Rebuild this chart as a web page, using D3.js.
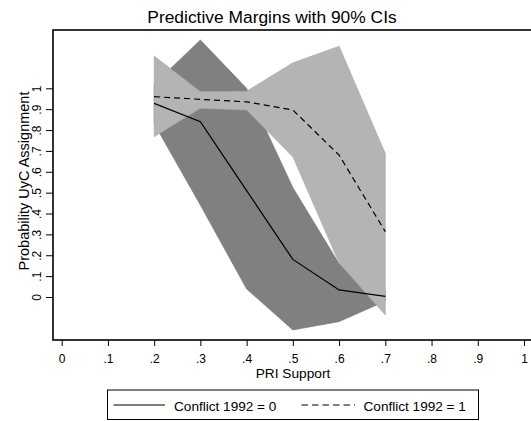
<!DOCTYPE html>
<html>
<head>
<meta charset="utf-8">
<script src="https://cdn.jsdelivr.net/npm/d3@7"></script>
<style>
  body { margin: 0; background: #fff; }
  svg { display: block; font-family: "Liberation Sans", Arial, Helvetica, sans-serif; }
</style>
</head>
<body>
<svg id="chart"></svg>
<script>
// PRI support values the margins were computed at.
const pri = [0.2, 0.3, 0.4, 0.5, 0.6, 0.7];

// Conflict 1992 = 0: point estimate and 90% CI.
const fit0 = [0.928, 0.84, 0.51, 0.18, 0.034, 0.003];
const lo0 = [0.83, 0.44, 0.038, -0.158, -0.118, -0.02];
const hi0 = [1.02, 1.232, 1.0, 0.525, 0.16, 0.03];

// Conflict 1992 = 1: point estimate and 90% CI.
const fit1 = [0.96, 0.947, 0.935, 0.896, 0.68, 0.313];
const lo1 = [0.768, 0.904, 0.896, 0.672, 0.163, -0.086];
const hi1 = [1.155, 0.984, 0.986, 1.122, 1.202, 0.688];

// Tick labels, Stata style.
const xTicks = [0, 0.1, 0.2, 0.3, 0.4, 0.5, 0.6, 0.7, 0.8, 0.9, 1];
const yTicks = [0, 0.1, 0.2, 0.3, 0.4, 0.5, 0.6, 0.7, 0.8, 0.9, 1];
const legendLabels = ["Conflict 1992 = 0", "Conflict 1992 = 1"];

const W = 531, H = 421;
const svg = d3.select("#chart").attr("width", W).attr("height", H);

// Plot region (the frame runs off the right edge like in the original).
const box = { left: 53, top: 30, right: 545, bottom: 340 };

const x = d3.scaleLinear().domain([0, 1]).range([61.7, 524]);
const y = d3.scaleLinear().domain([0, 1]).range([297, 88.3]);

const fmt = (d) => d === 0 ? "0" : d === 1 ? "1" : d3.format(".1f")(d).replace(/^0/, "");

// Bands first, light one over the dark one.
const band = (lo, hi) => d3.area()
    .x((d, i) => x(pri[i]))
    .y0((d, i) => y(lo[i]))
    .y1((d, i) => y(hi[i]));

svg.append("path")
    .datum(pri)
    .attr("d", band(lo0, hi0))
    .attr("fill", "#808080")
    .attr("stroke", "#7a7a7a")
    .attr("stroke-width", 0.6);

svg.append("path")
    .datum(pri)
    .attr("d", band(lo1, hi1))
    .attr("fill", "#b4b4b4")
    .attr("stroke", "#aaaaaa")
    .attr("stroke-width", 0.6);

// Point estimate lines.
const line = (vals) => d3.line()
    .x((d, i) => x(pri[i]))
    .y((d, i) => y(vals[i]));

svg.append("path")
    .datum(pri)
    .attr("d", line(fit0))
    .attr("fill", "none")
    .attr("stroke", "#000")
    .attr("stroke-width", 1.2);

svg.append("path")
    .datum(pri)
    .attr("d", line(fit1))
    .attr("fill", "none")
    .attr("stroke", "#000")
    .attr("stroke-width", 1.2)
    .attr("stroke-dasharray", "6,4");

// Frame / axis lines.
svg.append("rect")
    .attr("x", box.left)
    .attr("y", box.top)
    .attr("width", box.right - box.left)
    .attr("height", box.bottom - box.top)
    .attr("fill", "none")
    .attr("stroke", "#000")
    .attr("stroke-width", 1.6);

// X axis.
const xAxis = svg.append("g")
    .attr("transform", `translate(0,${box.bottom})`)
    .call(d3.axisBottom(x).tickValues(xTicks).tickFormat(fmt).tickSize(6).tickPadding(8));
xAxis.select(".domain").remove();
xAxis.selectAll("line").attr("stroke", "#000").attr("stroke-width", 1);
xAxis.selectAll("text")
    .attr("font-size", 12)
    .attr("font-family", "Liberation Sans, Arial, sans-serif")
    .attr("fill", "#000");

// Y axis, labels turned vertical.
const yAxis = svg.append("g")
    .attr("transform", `translate(${box.left},0)`)
    .call(d3.axisLeft(y).tickValues(yTicks).tickFormat(fmt).tickSize(7).tickPadding(0));
yAxis.select(".domain").remove();
yAxis.selectAll("line").attr("stroke", "#000").attr("stroke-width", 1);
yAxis.selectAll("text")
    .attr("x", null)
    .attr("dy", null)
    .attr("text-anchor", "middle")
    .attr("transform", "translate(-12.5,0) rotate(-90)")
    .attr("font-size", 12)
    .attr("font-family", "Liberation Sans, Arial, sans-serif")
    .attr("fill", "#000");

// Titles.
svg.append("text")
    .attr("x", 272)
    .attr("y", 23)
    .attr("text-anchor", "middle")
    .attr("font-size", 17.4)
    .text("Predictive Margins with 90% CIs");

svg.append("text")
    .attr("x", 293)
    .attr("y", 378)
    .attr("text-anchor", "middle")
    .attr("font-size", 13.7)
    .text("PRI Support");

svg.append("text")
    .attr("transform", "translate(28.5,181) rotate(-90)")
    .attr("text-anchor", "middle")
    .attr("font-size", 14.5)
    .text("Probability UyC Assignment");

// Legend.
const legend = svg.append("g");
legend.append("rect")
    .attr("x", 107.5)
    .attr("y", 390)
    .attr("width", 371)
    .attr("height", 29.5)
    .attr("fill", "#fff")
    .attr("stroke", "#000")
    .attr("stroke-width", 1);

const items = [
    { x0: 113.5, x1: 165, tx: 174, dash: null },
    { x0: 301.5, x1: 355, tx: 363.5, dash: "6.5,4" }
];
items.forEach((it, i) => {
    legend.append("line")
        .attr("x1", it.x0).attr("x2", it.x1)
        .attr("y1", 405).attr("y2", 405)
        .attr("stroke", "#000")
        .attr("stroke-width", 1.2)
        .attr("stroke-dasharray", it.dash);
    legend.append("text")
        .attr("x", it.tx)
        .attr("y", 410.5)
        .attr("font-size", 13.6)
        .text(legendLabels[i]);
});
</script>
</body>
</html>
